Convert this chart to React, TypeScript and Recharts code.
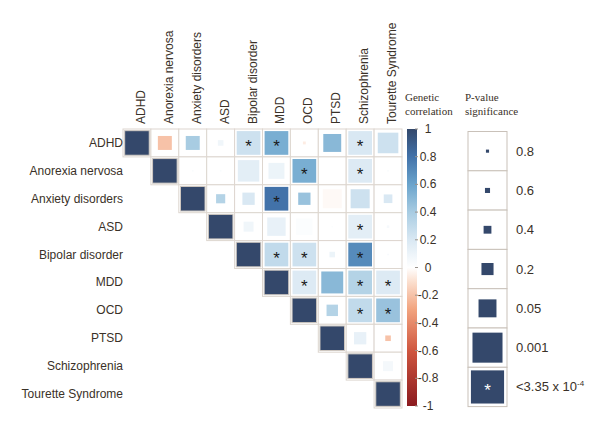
import React from "react";
import { ScatterChart, Scatter, XAxis, YAxis } from "recharts";

const disorders = [
  "ADHD",
  "Anorexia nervosa",
  "Anxiety disorders",
  "ASD",
  "Bipolar disorder",
  "MDD",
  "OCD",
  "PTSD",
  "Schizophrenia",
  "Tourette Syndrome",
];

// genetic correlation, upper triangle, row by row (columns to the right of the diagonal)
const corrADHD = [-0.2, 0.4, 0.08, 0.25, 0.55, -0.06, 0.5, 0.2, 0.25];
const corrAN = [0.03, 0.03, 0.15, 0.1, 0.55, 0, 0.18, 0.03];
const corrAnx = [0.35, 0.2, 0.8, 0.45, -0.02, 0.25, 0.2];
const corrASD = [0.08, 0.12, 0.02, 0.02, 0.15, 0.05];
const corrBIP = [0.3, 0.25, 0.1, 0.7, 0.04];
const corrMDD = [0.18, 0.5, 0.35, 0.18];
const corrOCD = [0.35, 0.3, 0.45];
const corrPTSD = [0.12, -0.2];
const corrSCZ = [0.06];

// p-values, same layout
const pADHD = [0.03, 0.03, 0.4, 1e-5, 1e-6, 0.7, 0.005, 1e-5, 0.0015];
const pAN = [0.85, 0.85, 0.001, 0.012, 1e-5, 0.98, 1e-5, 0.85];
const pAnx = [0.17, 0.06, 1e-6, 0.06, 0.003, 0.003, 0.2];
const pASD = [0.13, 0.004, 0.01, 0.85, 1e-5, 0.75];
const pBIP = [1e-6, 1e-5, 0.4, 1e-8, 0.85];
const pMDD = [1e-5, 0.0008, 1e-6, 1e-4];
const pOCD = [0.08, 1e-5, 1e-5];
const pPTSD = [0.06, 0.4];
const pSCZ = [0.13];

const colorTicks = [1, 0.8, 0.6, 0.4, 0.2, 0, -0.2, -0.4, -0.6, -0.8, -1];
const pLegend = [0.8, 0.6, 0.4, 0.2, 0.05, 0.001];
const SIG = 3.35e-4;

const corrRows = [corrADHD, corrAN, corrAnx, corrASD, corrBIP, corrMDD, corrOCD, corrPTSD, corrSCZ, []];
const pRows = [pADHD, pAN, pAnx, pASD, pBIP, pMDD, pOCD, pPTSD, pSCZ, []];

type Cell = { x: number; y: number; r: number; p: number; diag: boolean };
const cells: Cell[] = [];
disorders.forEach((_, i) => {
  cells.push({ x: i, y: i, r: 1, p: 0, diag: true });
  corrRows[i].forEach((r, k) => {
    cells.push({ x: i + k + 1, y: i, r, p: pRows[i][k], diag: false });
  });
});

const CELL = 27.9;
const TEXT = "#3a3128";
const NAVY = "#34486b";

const stops: [number, string][] = [
  [-1, "#8b1a1f"],
  [-0.6, "#cf563f"],
  [-0.3, "#f2a47f"],
  [-0.1, "#fbe0d0"],
  [0, "#ffffff"],
  [0.2, "#d9e8f3"],
  [0.4, "#a8cce2"],
  [0.6, "#6aa4cc"],
  [0.8, "#4272a9"],
  [1, "#34486b"],
];

function hex(c: string) {
  return [1, 3, 5].map((i) => parseInt(c.slice(i, i + 2), 16));
}

function corrColor(v: number) {
  for (let i = 1; i < stops.length; i++) {
    if (v <= stops[i][0]) {
      const [v0, c0] = stops[i - 1];
      const [v1, c1] = stops[i];
      const t = (v - v0) / (v1 - v0);
      const a = hex(c0);
      const b = hex(c1);
      const m = a.map((x, j) => Math.round(x + (b[j] - x) * t));
      return `rgb(${m.join(",")})`;
    }
  }
  return stops[stops.length - 1][1];
}

// side of the square as a fraction of its box, from -log10(p)
const sizeAnchors: [number, number][] = [
  [0, 0],
  [0.097, 0.08],
  [0.222, 0.13],
  [0.398, 0.2],
  [0.699, 0.31],
  [1.301, 0.46],
  [3, 0.77],
  [3.475, 0.85],
];

function sizeFrac(p: number) {
  if (p < SIG) return 0.85;
  const L = -Math.log10(p);
  for (let i = 1; i < sizeAnchors.length; i++) {
    if (L <= sizeAnchors[i][0]) {
      const [l0, f0] = sizeAnchors[i - 1];
      const [l1, f1] = sizeAnchors[i];
      return f0 + ((L - l0) / (l1 - l0)) * (f1 - f0);
    }
  }
  return 0.85;
}

const CellShape = (props: any) => {
  const { cx, cy, payload } = props;
  const half = CELL / 2;
  const side = payload.diag ? CELL * 0.88 : CELL * sizeFrac(payload.p);
  return (
    <g>
      <rect x={cx - half} y={cy - half} width={CELL} height={CELL} fill="#fff" stroke="#ddd6cf" />
      {side > 0.5 && (
        <rect
          x={cx - side / 2}
          y={cy - side / 2}
          width={side}
          height={side}
          fill={corrColor(payload.r)}
          stroke={payload.diag ? "#cfc8c1" : "none"}
        />
      )}
      {!payload.diag && payload.p < SIG && (
        <text x={cx} y={cy + 9.5} textAnchor="middle" fontSize={17} fill="#1a1a1a" fontFamily="Liberation Sans, Arial">
          *
        </text>
      )}
    </g>
  );
};

const TopTick = (props: any) => {
  const { x, y, payload } = props;
  return (
    <g transform={`translate(${x + 8},${y + 3})`}>
      <text transform="rotate(-90)" textAnchor="start" fontSize={12} fill={TEXT} fontFamily="Liberation Sans, Arial">
        {disorders[payload.value]}
      </text>
    </g>
  );
};

const LeftTick = (props: any) => {
  const { x, y, payload } = props;
  return (
    <text x={x + 8} y={y} dy={4} textAnchor="end" fontSize={12} fill={TEXT} fontFamily="Liberation Sans, Arial">
      {disorders[payload.value]}
    </text>
  );
};

function Legends() {
  const barTop = 129;
  const barH = 277;
  const boxTop = 131.5;
  const boxH = 39.3;
  return (
    <svg width={600} height={422} style={{ position: "absolute", left: 0, top: 0, pointerEvents: "none" }}>
      <defs>
        <linearGradient id="corrGrad" x1="0" y1="0" x2="0" y2="1">
          {stops
            .slice()
            .reverse()
            .map(([v, c]) => (
              <stop key={v} offset={(1 - v) / 2} stopColor={c} />
            ))}
        </linearGradient>
      </defs>
      <g fontFamily="Liberation Serif, Times New Roman" fontSize={11} fill={TEXT}>
        <text x={405} y={101}>Genetic</text>
        <text x={405} y={115}>correlation</text>
        <text x={465} y={101}>P-value</text>
        <text x={465} y={115}>significance</text>
      </g>
      <rect x={407} y={barTop} width={10} height={barH} fill="url(#corrGrad)" />
      {colorTicks.map((v) => {
        const yy = barTop + ((1 - v) / 2) * barH;
        return (
          <g key={v}>
            <line x1={415} x2={418} y1={yy} y2={yy} stroke="#9a938c" />
            <text x={428} y={yy + 4} textAnchor="middle" fontSize={12} fill={TEXT} fontFamily="Liberation Sans, Arial">
              {v}
            </text>
          </g>
        );
      })}
      {[...pLegend, SIG / 2].map((p, i) => {
        const y0 = boxTop + i * boxH;
        const side = 39 * sizeFrac(p);
        const cy = y0 + boxH / 2;
        return (
          <g key={i}>
            <rect x={468} y={y0} width={39} height={boxH} fill="#fff" stroke="#c9c1b9" />
            <rect x={487.5 - side / 2} y={cy - side / 2} width={side} height={side} fill={NAVY} />
            {i === pLegend.length ? (
              <>
                <text x={487.5} y={cy + 9} textAnchor="middle" fontSize={17} fill="#fff" fontFamily="Liberation Sans, Arial">
                  *
                </text>
                <text x={516} y={cy + 4.5} fontSize={13} fill={TEXT} fontFamily="Liberation Sans, Arial">
                  {"<3.35 x 10"}
                  <tspan dy={-5} fontSize={8}>
                    -4
                  </tspan>
                </text>
              </>
            ) : (
              <text x={516} y={cy + 4.5} fontSize={13} fill={TEXT} fontFamily="Liberation Sans, Arial">
                {p}
              </text>
            )}
          </g>
        );
      })}
    </svg>
  );
}

export default function App() {
  const ticks = disorders.map((_, i) => i);
  return (
    <div style={{ position: "absolute", left: 0, top: 0, width: 600, height: 422, background: "#fff" }}>
      <ScatterChart width={600} height={422} margin={{ top: 9, right: 198, bottom: 14, left: 3 }}>
        <XAxis
          type="number"
          dataKey="x"
          orientation="top"
          domain={[-0.5, 9.5]}
          ticks={ticks}
          interval={0}
          height={120}
          axisLine={false}
          tickLine={false}
          tick={<TopTick />}
        />
        <YAxis
          type="number"
          dataKey="y"
          domain={[-0.5, 9.5]}
          reversed
          ticks={ticks}
          interval={0}
          width={120}
          axisLine={false}
          tickLine={false}
          tickMargin={2}
          tick={<LeftTick />}
        />
        <Scatter data={cells} shape={<CellShape />} isAnimationActive={false} />
      </ScatterChart>
      <Legends />
    </div>
  );
}
